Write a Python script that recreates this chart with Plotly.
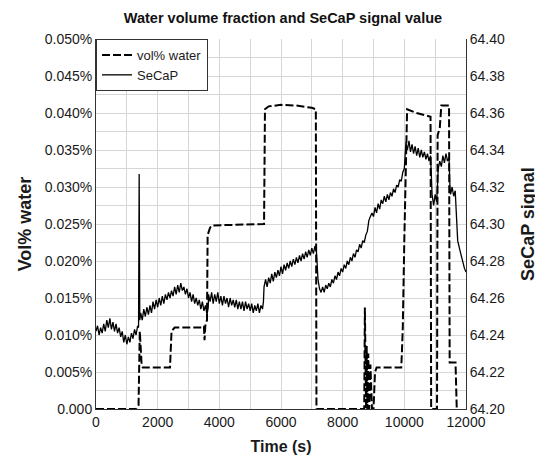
import plotly.graph_objects as go

# ---- data: vol% water (dashed, left axis, values in percent) ----
water_points = [
    (0, 0.0), (1100, 0.0), (1300, 0.0), (1380, 0.0005), (1400, 0.0105), (1420, 0.0105),
    (1480, 0.0060), (1520, 0.0056), (2400, 0.0056), (2450, 0.0105), (2550, 0.0110),
    (3450, 0.0110), (3500, 0.0112), (3520, 0.0093), (3550, 0.0115), (3600, 0.0120),
    (3620, 0.0235), (3700, 0.0245), (3750, 0.0248), (5400, 0.0250), (5450, 0.0250),
    (5480, 0.0405), (5600, 0.0409), (6000, 0.0411), (6500, 0.0410), (7000, 0.0407),
    (7130, 0.0405), (7150, 0.0), (8700, 0.0), (8720, 0.0137), (8760, 0.0), (8780, 0.0085),
    (8800, 0.0), (8830, 0.0075), (8860, 0.0), (8900, 0.0060), (8950, 0.0), (9000, 0.0),
    (9050, 0.0050), (9100, 0.0056), (9900, 0.0056), (9920, 0.0075), (9950, 0.0110),
    (10000, 0.0230), (10050, 0.0350), (10090, 0.0405), (10400, 0.0400), (10850, 0.0395),
    (10870, 0.0), (11060, 0.0), (11080, 0.0370), (11150, 0.0380), (11200, 0.0410),
    (11450, 0.0410), (11470, 0.0063), (11660, 0.0063), (11700, 0.0), (11750, 0.0),
]

# ---- data: SeCaP signal (solid, right axis) ----
secap_points = [
    (0, 64.242), (50, 64.245), (100, 64.240), (150, 64.244), (200, 64.241), (250, 64.246),
    (300, 64.242), (350, 64.248), (400, 64.244), (450, 64.249), (500, 64.243), (550, 64.247),
    (600, 64.242), (650, 64.246), (700, 64.241), (750, 64.244), (800, 64.239), (850, 64.242),
    (900, 64.236), (950, 64.240), (1000, 64.235), (1050, 64.239), (1100, 64.236), (1150, 64.241),
    (1200, 64.238), (1250, 64.243), (1300, 64.240), (1350, 64.245), (1380, 64.244), (1400, 64.327),
    (1420, 64.248), (1450, 64.252), (1500, 64.248), (1550, 64.254), (1600, 64.250), (1650, 64.255),
    (1700, 64.251), (1750, 64.256), (1800, 64.252), (1850, 64.258), (1900, 64.254), (1950, 64.259),
    (2000, 64.255), (2050, 64.260), (2100, 64.256), (2150, 64.261), (2200, 64.257), (2250, 64.262),
    (2300, 64.259), (2350, 64.263), (2400, 64.260), (2450, 64.264), (2500, 64.261), (2550, 64.266),
    (2600, 64.262), (2650, 64.267), (2700, 64.263), (2750, 64.268), (2800, 64.264), (2850, 64.266),
    (2900, 64.262), (2950, 64.265), (3000, 64.260), (3050, 64.263), (3100, 64.258), (3150, 64.262),
    (3200, 64.257), (3250, 64.260), (3300, 64.256), (3350, 64.259), (3400, 64.254), (3450, 64.258),
    (3500, 64.253), (3550, 64.256), (3600, 64.251), (3640, 64.255), (3650, 64.262), (3700, 64.258),
    (3750, 64.263), (3800, 64.257), (3850, 64.262), (3900, 64.258), (3950, 64.263), (4000, 64.257),
    (4050, 64.261), (4100, 64.256), (4150, 64.261), (4200, 64.257), (4250, 64.260), (4300, 64.255),
    (4350, 64.260), (4400, 64.256), (4450, 64.259), (4500, 64.255), (4550, 64.259), (4600, 64.254),
    (4650, 64.258), (4700, 64.254), (4750, 64.258), (4800, 64.253), (4850, 64.258), (4900, 64.254),
    (4950, 64.257), (5000, 64.253), (5050, 64.257), (5100, 64.252), (5150, 64.256), (5200, 64.253),
    (5250, 64.257), (5300, 64.252), (5350, 64.256), (5400, 64.254), (5430, 64.258), (5450, 64.266),
    (5500, 64.270), (5550, 64.266), (5600, 64.271), (5650, 64.268), (5700, 64.273), (5750, 64.269),
    (5800, 64.274), (5850, 64.271), (5900, 64.275), (5950, 64.272), (6000, 64.277), (6050, 64.273),
    (6100, 64.278), (6150, 64.275), (6200, 64.279), (6250, 64.276), (6300, 64.280), (6350, 64.277),
    (6400, 64.281), (6450, 64.278), (6500, 64.282), (6550, 64.279), (6600, 64.283), (6650, 64.280),
    (6700, 64.284), (6750, 64.281), (6800, 64.285), (6850, 64.282), (6900, 64.286), (6950, 64.283),
    (7000, 64.287), (7050, 64.284), (7100, 64.288), (7150, 64.285), (7200, 64.270), (7250, 64.265),
    (7300, 64.263), (7350, 64.266), (7400, 64.263), (7450, 64.267), (7500, 64.265), (7550, 64.268),
    (7600, 64.266), (7650, 64.270), (7700, 64.268), (7750, 64.272), (7800, 64.270), (7850, 64.274),
    (7900, 64.272), (7950, 64.276), (8000, 64.274), (8050, 64.278), (8100, 64.276), (8150, 64.280),
    (8200, 64.278), (8250, 64.282), (8300, 64.280), (8350, 64.284), (8400, 64.282), (8450, 64.286),
    (8500, 64.285), (8550, 64.289), (8600, 64.287), (8650, 64.291), (8700, 64.290), (8750, 64.294),
    (8800, 64.296), (8850, 64.302), (8900, 64.304), (8950, 64.306), (9000, 64.304), (9050, 64.309),
    (9100, 64.306), (9150, 64.311), (9200, 64.308), (9250, 64.313), (9300, 64.311), (9350, 64.315),
    (9400, 64.312), (9450, 64.316), (9500, 64.313), (9550, 64.317), (9600, 64.315), (9650, 64.319),
    (9700, 64.317), (9750, 64.321), (9800, 64.320), (9850, 64.324), (9900, 64.323), (9950, 64.328),
    (10000, 64.330), (10050, 64.344), (10100, 64.340), (10150, 64.345), (10200, 64.339),
    (10250, 64.343), (10300, 64.338), (10350, 64.342), (10400, 64.337), (10450, 64.341),
    (10500, 64.336), (10550, 64.340), (10600, 64.336), (10650, 64.339), (10700, 64.335),
    (10750, 64.338), (10800, 64.334), (10850, 64.337), (10900, 64.316), (10950, 64.310),
    (11000, 64.316), (11050, 64.312), (11100, 64.330), (11150, 64.334), (11200, 64.331),
    (11250, 64.337), (11300, 64.333), (11350, 64.338), (11400, 64.334), (11450, 64.336),
    (11480, 64.320), (11500, 64.316), (11550, 64.320), (11600, 64.315), (11650, 64.318),
    (11700, 64.300), (11730, 64.291), (11800, 64.286), (11850, 64.282), (11900, 64.280),
    (11950, 64.276), (12000, 64.274),
]

left_tickvals = [0.0, 0.005, 0.010, 0.015, 0.020, 0.025, 0.030, 0.035, 0.040, 0.045, 0.050]
left_ticktext = ["0.000", "0.005%", "0.010%", "0.015%", "0.020%", "0.025%", "0.030%",
                 "0.035%", "0.040%", "0.045%", "0.050%"]

water_t = [p[0] for p in water_points]
water_v = [p[1] for p in water_points]
secap_t = [p[0] for p in secap_points]
secap_v = [p[1] for p in secap_points]

fig = go.Figure()
fig.add_trace(go.Scatter(x=water_t, y=water_v, mode="lines", name="vol% water",
                         line=dict(color="black", width=2, dash="8px,3px")))
fig.add_trace(go.Scatter(x=secap_t, y=secap_v, mode="lines", name="SeCaP", yaxis="y2",
                         line=dict(color="black", width=1.3)))

font = "Liberation Sans, Arial, sans-serif"
grid = "#d6d6d6"
fig.update_layout(
    width=535, height=456,
    margin=dict(l=88, r=77, t=31, b=55),
    paper_bgcolor="white", plot_bgcolor="white",
    font=dict(family=font, color="#1a1a1a", size=14),
    title=dict(text="<b>Water volume fraction and SeCaP signal value</b>", x=0.514, xanchor="center",
               y=0.978, yanchor="middle", font=dict(size=14.5, color="#111")),
    showlegend=True,
    legend=dict(x=0, y=1, xanchor="left", yanchor="top", bgcolor="white", bordercolor="#333",
                borderwidth=1, font=dict(size=13), tracegroupgap=0, itemwidth=30),
    xaxis=dict(range=[0, 12000], dtick=2000, tick0=0, tickformat="d", showgrid=True, gridcolor=grid,
               minor=dict(dtick=1000, showgrid=True, gridcolor=grid),
               showline=True, linecolor="#333", linewidth=1, zeroline=False, ticks="",
               automargin=False,
               title=dict(text="<b>Time (s)</b>", font=dict(size=16), standoff=12)),
    yaxis=dict(range=[0, 0.05], tickvals=left_tickvals, ticktext=left_ticktext, showgrid=True,
               gridcolor=grid, minor=dict(dtick=0.0025, showgrid=True, gridcolor=grid),
               showline=True, linecolor="#333", linewidth=1, zeroline=False, ticks="",
               automargin=False,
               title=dict(text="<b>Vol% water</b>", font=dict(size=18), standoff=8)),
    yaxis2=dict(range=[64.20, 64.40], dtick=0.02, tick0=64.20, tickformat=".2f", overlaying="y",
                side="right", showgrid=False, showline=True, linecolor="#333", linewidth=1,
                zeroline=False, ticks="", automargin=False,
                title=dict(text="<b>SeCaP signal</b>", font=dict(size=18), standoff=17)),
)

fig.write_html("out.html")
